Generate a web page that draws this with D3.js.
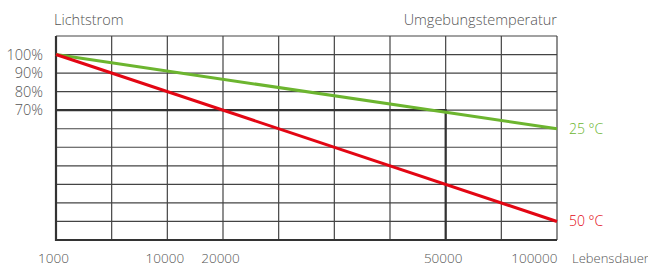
<!DOCTYPE html>
<html>
<head>
<meta charset="utf-8">
<script src="https://cdn.jsdelivr.net/npm/d3@7"></script>
<style>
body { margin: 0; background: #fff; }
text { font-family: "Open Sans", Lato, sans-serif; font-weight: 300; fill: #555; }
</style>
</head>
<body>
<div id="chart"></div>
<script>
// grid positions on the lifetime axis (10 lines, equal spacing)
var xLabels = ["1000", "10000", "20000", "50000", "100000"]
var xLabelPos = [0, 2, 3, 7, 9]
var yLabels = ["100%", "90%", "80%", "70%"]
var yLabelVals = [100, 90, 80, 70]

var seriesNames = ["25 °C", "50 °C"]
var seriesX = [0, 9]
var green25 = [100, 60]
var red50 = [100, 10]
var colors = ["#6cb52f", "#e30613"]

var W = 648, H = 268
var margin = { top: 36, right: 91, bottom: 28, left: 56 }
var font = "'Open Sans', Lato, sans-serif"

var svg = d3.select("#chart").append("svg")
	.attr("width", W)
	.attr("height", H)

var x = d3.scaleLinear()
	.domain([0, 9])
	.range([margin.left, W - margin.right])

var y = d3.scaleLinear()
	.domain([0, 110])
	.range([H - margin.bottom, margin.top])

var grid = svg.append("g")
	.attr("stroke", "#444")
	.attr("stroke-width", 1.2)

// horizontal lines every 10%
grid.selectAll(".h")
	.data(d3.range(0, 111, 10))
	.enter()
	.append("line")
	.attr("x1", x(0))
	.attr("x2", x(9))
	.attr("y1", d => y(d))
	.attr("y2", d => y(d))

grid.selectAll(".v")
	.data(d3.range(0, 10))
	.enter()
	.append("line")
	.attr("x1", d => x(d))
	.attr("x2", d => x(d))
	.attr("y1", y(0))
	.attr("y2", y(110))

// heavier lines: left/bottom border and the 70% / 50000 marker
var heavy = svg.append("g")
	.attr("stroke", "#333")
	.attr("stroke-width", 2.2)
	.attr("fill", "none")
heavy.append("path")
	.attr("d", "M" + x(0) + "," + y(110) + "V" + y(0) + "H" + x(9))
heavy.append("path")
	.attr("d", "M" + x(0) + "," + y(70) + "H" + x(7) + "V" + y(0))

// series lines
var line = d3.line()
	.x((d, i) => x(seriesX[i]))
	.y(d => y(d))

;[green25, red50].forEach(function(vals, i) {
	svg.append("path")
		.attr("d", line(vals))
		.attr("fill", "none")
		.attr("stroke", colors[i])
		.attr("stroke-width", 3)
	svg.append("text")
		.attr("x", x(9) + 12)
		.attr("y", y(vals[vals.length - 1]))
		.attr("dy", "0.35em")
		.style("font-size", "14px")
		.style("fill", colors[i])
		.text(seriesNames[i])
})

// x axis labels
var xAxis = d3.axisBottom(x)
	.tickValues(xLabelPos)
	.tickFormat((d, i) => xLabels[i])
	.tickSize(0)
	.tickPadding(0)

var xg = svg.append("g")
	.attr("transform", "translate(-3," + (H - 5) + ")")
	.call(xAxis)
xg.select(".domain").remove()
xg.selectAll("text")
	.attr("dy", 0)
	.attr("y", 0)
	.style("font-size", "13.5px")
	.style("font-family", font)
	.attr("fill", "#555")
xg.selectAll(".tick:last-of-type text")
	.attr("text-anchor", "end")
	.attr("x", 3)

svg.append("text")
	.attr("x", x(9) + 15)
	.attr("y", H - 5)
	.style("font-size", "13px")
	.text("Lebensdauer")

// y axis labels
var yAxis = d3.axisLeft(y)
	.tickValues(yLabelVals)
	.tickFormat((d, i) => yLabels[i])
	.tickSize(0)
	.tickPadding(0)

var yg = svg.append("g")
	.attr("transform", "translate(43,0)")
	.call(yAxis)
yg.select(".domain").remove()
yg.selectAll("text")
	.style("font-size", "14.5px")
	.style("font-family", font)
	.attr("fill", "#555")

svg.append("text")
	.attr("x", 54)
	.attr("y", 25)
	.style("font-size", "14.5px")
	.text("Lichtstrom")

svg.append("text")
	.attr("x", x(9))
	.attr("y", 25)
	.attr("text-anchor", "end")
	.style("font-size", "14.5px")
	.text("Umgebungstemperatur")
</script>
</body>
</html>
